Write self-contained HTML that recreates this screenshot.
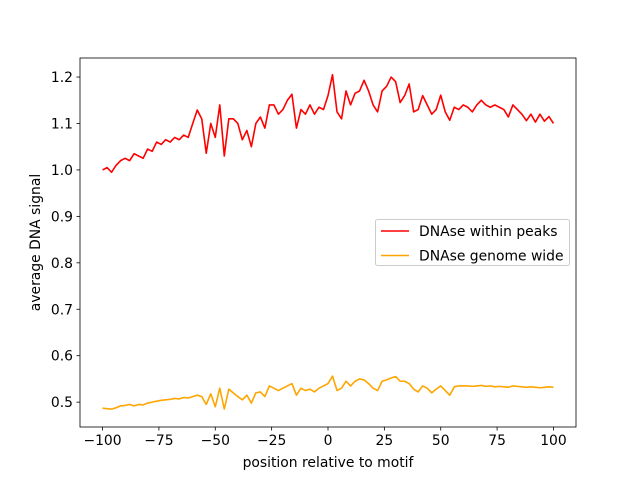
<!DOCTYPE html>
<html><head><meta charset="utf-8"><style>
body{margin:0;background:#fff}
svg text{font-family:"DejaVu Sans","Liberation Sans",sans-serif;font-size:13.9px;fill:#000}
</style></head><body>
<svg id="chart" width="640" height="480" xmlns="http://www.w3.org/2000/svg">
<rect x="0" y="0" width="640" height="480" fill="#fff"/>
<g id="plot"></g>
</svg>
<script>
const xTicks=[-100,-75,-50,-25,0,25,50,75,100];
const yTicks=[0.5,0.6,0.7,0.8,0.9,1.0,1.1,1.2];
const yTickLabels=["0.5","0.6","0.7","0.8","0.9","1.0","1.1","1.2"];
const xStart=-100, xStep=2;
const peaks=[1.00,1.005,0.995,1.01,1.02,1.025,1.02,1.035,1.03,1.025,1.045,1.04,1.06,1.055,1.065,1.06,1.07,1.065,1.075,1.07,
1.10,1.129,1.11,1.036,1.10,1.07,1.14,1.03,1.11,1.11,
1.10,1.065,1.085,1.05,1.10,1.114,1.09,1.14,1.14,1.12,
1.13,1.15,1.163,1.09,1.13,1.12,1.14,1.12,1.135,1.13,
1.16,1.205,1.125,1.11,1.17,1.14,1.165,1.17,1.193,1.17,
1.14,1.125,1.17,1.18,1.2,1.19,1.145,1.16,1.185,1.125,
1.13,1.16,1.14,1.12,1.13,1.161,1.125,1.107,1.135,1.13,
1.14,1.135,1.125,1.14,1.15,1.14,1.135,1.14,1.135,1.13,
1.114,1.14,1.13,1.12,1.106,1.12,1.103,1.12,1.105,1.115,1.10];
const genome=[0.487,0.486,0.485,0.488,0.492,0.493,0.495,0.492,0.495,0.494,0.498,0.500,0.502,0.504,0.505,0.506,0.508,0.507,0.510,0.509,
0.512,0.515,0.512,0.495,0.518,0.490,0.530,0.485,0.528,0.520,
0.512,0.505,0.515,0.498,0.520,0.522,0.512,0.535,0.530,0.525,
0.530,0.535,0.540,0.515,0.530,0.525,0.528,0.522,0.530,0.535,
0.540,0.556,0.525,0.530,0.545,0.535,0.545,0.550,0.548,0.540,
0.530,0.525,0.545,0.548,0.552,0.555,0.545,0.545,0.540,0.528,
0.522,0.535,0.530,0.520,0.528,0.535,0.525,0.515,0.533,0.535,
0.535,0.535,0.534,0.535,0.536,0.534,0.535,0.533,0.534,0.533,
0.532,0.535,0.534,0.533,0.532,0.533,0.532,0.531,0.532,0.533,0.532];
const seriesNames=["DNAse within peaks","DNAse genome wide"];

const L=80,R=576,T=58,B=427,xmin=-110,xmax=110,ymin=0.4465,ymax=1.241;
const X=v=>L+(v-xmin)/(xmax-xmin)*(R-L);
const Y=v=>B-(v-ymin)/(ymax-ymin)*(B-T);
const NS="http://www.w3.org/2000/svg";
const g=document.getElementById('plot');
function mk(tag,attrs,parent){const e=document.createElementNS(NS,tag);for(const k in attrs)e.setAttribute(k,attrs[k]);(parent||g).appendChild(e);return e;}

function line(data,color,name){
  const d=data.map((v,i)=>(i?'L':'M')+X(xStart+i*xStep).toFixed(2)+','+Y(v).toFixed(2)).join('');
  const p=mk('path',{d:d,fill:'none',stroke:color,'stroke-width':1.6,'stroke-linejoin':'round'});
  
  
}
line(peaks,'#ff0000','series-within-peaks');
line(genome,'#ffa500','series-genome-wide');

const frame=mk('rect',{x:L,y:T,width:R-L,height:B-T,fill:'none',stroke:'#000','stroke-width':0.8});



xTicks.forEach(t=>{
  const x=X(t);
  const tk=mk('line',{x1:x,x2:x,y1:B,y2:B+3.5,stroke:'#000','stroke-width':0.8});
  
  
  const tx=mk('text',{x:x,y:B+18,'text-anchor':'middle'});
  tx.textContent=String(t).replace('-','\u2212');
  
  
});
yTicks.forEach((t,i)=>{
  const y=Y(t);
  const tk=mk('line',{x1:L-3.5,x2:L,y1:y,y2:y,stroke:'#000','stroke-width':0.8});
  
  
  const tx=mk('text',{x:L-7,y:y+5,'text-anchor':'end'});
  tx.textContent=yTickLabels[i];
  
  
});
const xl=mk('text',{x:(L+R)/2,y:467,'text-anchor':'middle'});
xl.textContent='position relative to motif';


const yl=mk('text',{x:0,y:0,'text-anchor':'middle',transform:'translate(40,'+((T+B)/2)+') rotate(-90)'});
yl.textContent='average DNA signal';



const lg=mk('g',{});


mk('rect',{x:375.5,y:219.5,width:194,height:46,rx:2,fill:'#fff','fill-opacity':0.8,stroke:'#ccc','stroke-width':1},lg);
const colors=['#ff0000','#ffa500'];
seriesNames.forEach((n,i)=>{
  const y=231+i*24.5;
  const e=mk('g',{},lg);
  
  
  mk('line',{x1:381,x2:409,y1:y,y2:y,stroke:colors[i],'stroke-width':1.6},e);
  const t=mk('text',{x:419,y:y+5},e);
  t.textContent=n;
});
</script>
</body></html>
